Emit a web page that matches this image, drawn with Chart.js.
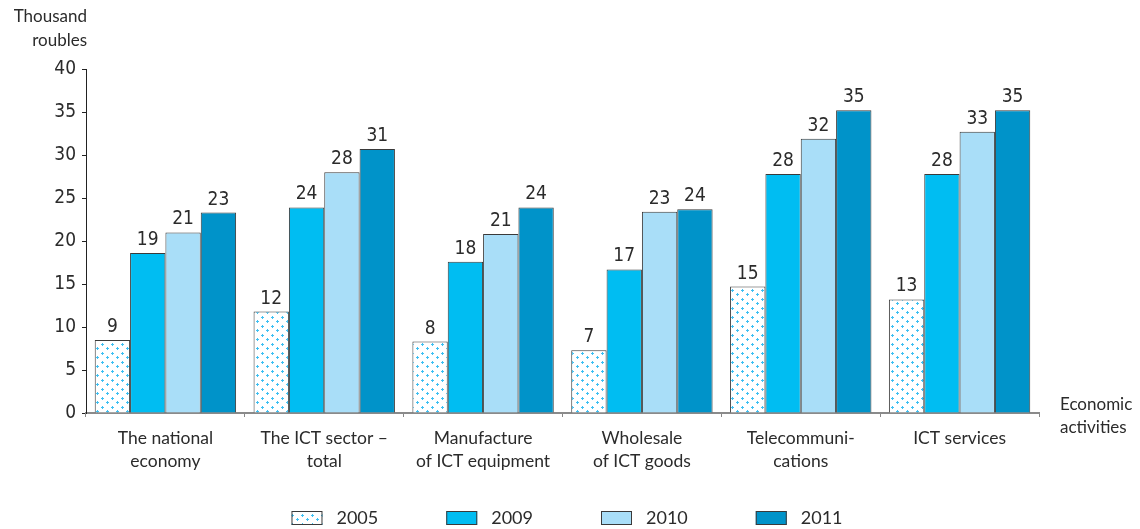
<!DOCTYPE html>
<html>
<head>
<meta charset="utf-8">
<script src="https://cdn.jsdelivr.net/npm/chart.js@4/dist/chart.umd.min.js"></script>
<style>
  html, body { margin: 0; padding: 0; background: #fff; }
  #wrap { width: 1140px; height: 529px; position: relative; }
</style>
</head>
<body>
<div id="wrap"><canvas id="c" width="1140" height="529"></canvas></div>
<script>
// Average monthly wages by economic activity, thousand roubles
const categories = [
  ['The national', 'economy'],
  ['The ICT sector –', 'total'],
  ['Manufacture', 'of ICT equipment'],
  ['Wholesale', 'of ICT goods'],
  ['Telecommuni-', 'cations'],
  ['ICT services']
];
const years = ['2005', '2009', '2010', '2011'];
const wages2005 = [8.5, 11.8, 8.3, 7.3, 14.7, 13.2];
const wages2009 = [18.6, 23.9, 17.6, 16.7, 27.8, 27.8];
const wages2010 = [21.0, 28.0, 20.8, 23.4, 31.9, 32.7];
const wages2011 = [23.3, 30.7, 23.9, 23.7, 35.2, 35.2];
const yTicks = [0, 5, 10, 15, 20, 25, 30, 35, 40];

const NUM_FONT = "'Liberation Sans Narrow', 'DejaVu Sans Condensed', sans-serif";
const TXT_FONT = "Lato, 'Noto Sans', sans-serif";
const INK = '#2b2b2b';

// dotted fill used for the 2005 bars: small blue crosses on a staggered grid
function dotPattern() {
  const p = document.createElement('canvas');
  p.width = 10; p.height = 9;
  const g = p.getContext('2d');
  g.fillStyle = '#ffffff';
  g.fillRect(0, 0, 10, 9);
  g.fillStyle = '#3fc0f2';
  const cross = (x, y) => { g.fillRect(x - 1, y, 3, 1); g.fillRect(x, y - 1, 1, 3); };
  cross(2, 2);
  cross(7, 6);
  return g.createPattern(p, 'repeat');
}

const ctx = document.getElementById('c').getContext('2d');

// value labels above each bar
const valueLabels = {
  id: 'valueLabels',
  afterDatasetsDraw(chart) {
    const c = chart.ctx;
    c.save();
    c.font = '19px ' + NUM_FONT;
    c.fillStyle = INK;
    c.textAlign = 'center';
    c.textBaseline = 'alphabetic';
    chart.data.datasets.forEach((ds, i) => {
      chart.getDatasetMeta(i).data.forEach((bar, j) => {
        c.fillText(String(Math.round(ds.data[j])), bar.x, bar.y - 8);
      });
    });
    c.restore();
  }
};

// axis titles and the legend row
const extras = {
  id: 'extras',
  afterDraw(chart) {
    const c = chart.ctx;
    c.save();
    c.fillStyle = INK;
    c.font = '17px ' + TXT_FONT;
    c.textBaseline = 'middle';
    c.textAlign = 'right';
    c.fillText('Thousand', 87, 17);
    c.fillText('roubles', 87, 41);
    c.textAlign = 'left';
    c.fillText('Economic', 1060, 405);
    c.fillText('activities', 1060, 428);

    // legend
    c.font = '18px ' + TXT_FONT;
    const boxW = 31, boxH = 14, gapText = 14, gapItem = 68;
    const items = chart.data.datasets.map(ds => ({
      label: ds.label, fill: ds.backgroundColor, stroke: ds.borderColor,
      w: boxW + gapText + c.measureText(ds.label).width
    }));
    const total = items.reduce((s, it) => s + it.w, 0) + gapItem * (items.length - 1);
    let x = 567 - total / 2;
    const cy = 518;
    items.forEach(it => {
      c.fillStyle = it.fill;
      c.fillRect(x, cy - boxH / 2, boxW, boxH);
      c.strokeStyle = it.stroke;
      c.lineWidth = 1;
      c.strokeRect(x + 0.5, cy - boxH / 2 + 0.5, boxW - 1, boxH - 1);
      c.fillStyle = INK;
      c.textAlign = 'left';
      c.fillText(it.label, x + boxW + gapText, cy);
      x += it.w + gapItem;
    });
    c.restore();
  }
};

const common = { borderColor: '#3a3a3a', borderWidth: 1, borderSkipped: 'bottom' };

new Chart(ctx, {
  type: 'bar',
  data: {
    labels: categories,
    datasets: [
      { label: years[0], data: wages2005, backgroundColor: dotPattern(), ...common },
      { label: years[1], data: wages2009, backgroundColor: '#00bdf2', ...common },
      { label: years[2], data: wages2010, backgroundColor: '#a9def8', ...common },
      { label: years[3], data: wages2011, backgroundColor: '#0093c9', ...common }
    ]
  },
  options: {
    responsive: false,
    animation: false,
    events: [],
    layout: { padding: { top: 69, right: 101, left: 0, bottom: 59 } },
    plugins: { legend: { display: false }, tooltip: { enabled: false } },
    datasets: { bar: { categoryPercentage: 0.89, barPercentage: 1.0 } },
    scales: {
      x: {
        grid: { display: true, drawOnChartArea: false, offset: true, tickLength: 4, color: '#888', lineWidth: 1 },
        border: { display: true, color: '#8a8a8a', width: 2 },
        ticks: { color: INK, font: { family: TXT_FONT, size: 17.5, lineHeight: 1.3 }, padding: 10, maxRotation: 0, autoSkip: false },
        afterFit(s) { s.height = 57; }
      },
      y: {
        min: 0, max: 40,
        afterBuildTicks(s) { s.ticks = yTicks.map(v => ({ value: v })); },
        grid: { display: true, drawOnChartArea: false, tickLength: 4, color: '#222', lineWidth: 1 },
        border: { display: true, color: '#222', width: 1 },
        ticks: { color: INK, font: { family: NUM_FONT, size: 19 }, padding: 6 },
        afterFit(s) { s.width = 86; }
      }
    }
  },
  plugins: [valueLabels, extras]
});
</script>
</body>
</html>
